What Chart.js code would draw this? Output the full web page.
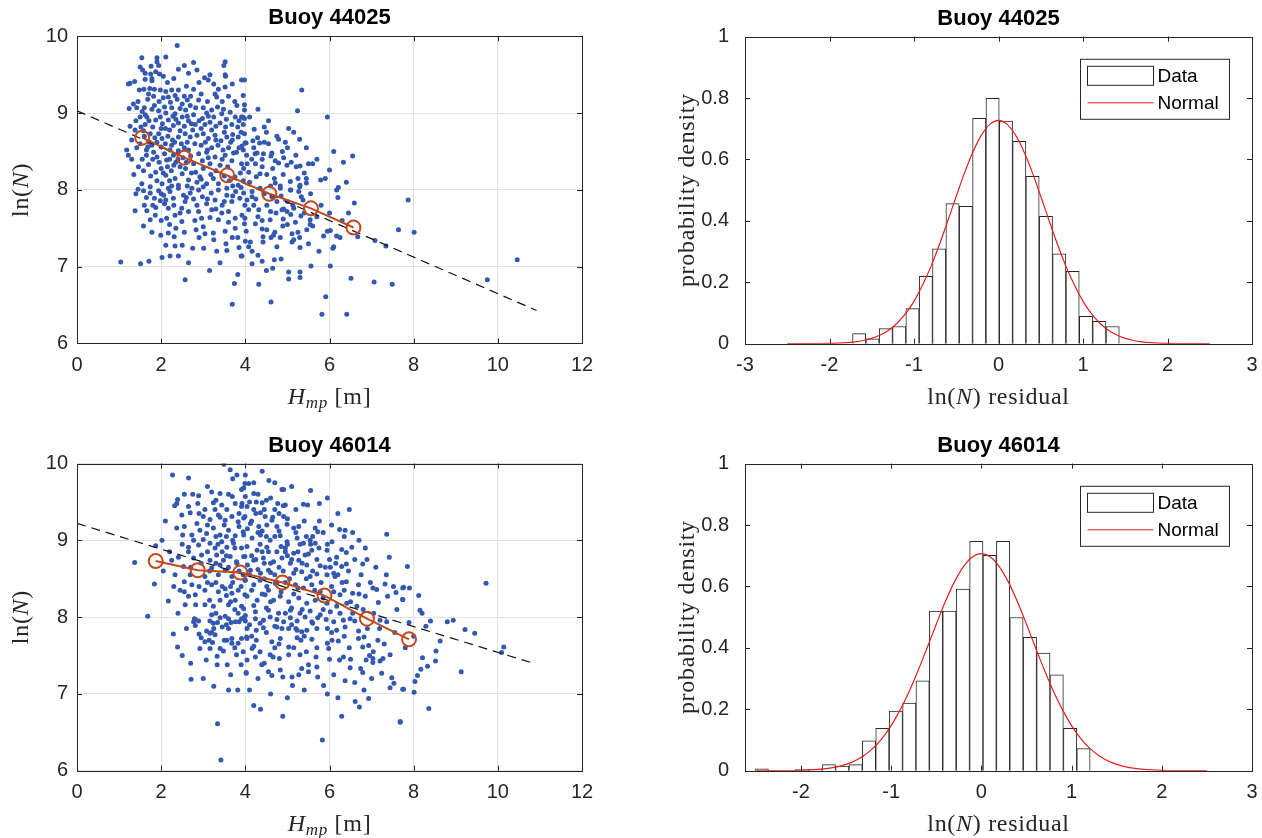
<!DOCTYPE html>
<html><head><meta charset="utf-8">
<script src="https://cdn.jsdelivr.net/npm/chart.js@4.4.1/dist/chart.umd.min.js"></script>
<style>
html,body{margin:0;padding:0;background:#fff;width:1262px;height:838px;overflow:hidden}
canvas{position:absolute;left:0;top:0}
</style></head><body>
<canvas id="c1" width="1262" height="838"></canvas>
<canvas id="c2" width="1262" height="838"></canvas>
<canvas id="c3" width="1262" height="838"></canvas>
<canvas id="c4" width="1262" height="838"></canvas>
<script>
// ---------- DATA ----------
const titles = ['Buoy 44025', 'Buoy 46014'];
const scatterXTicks = [0, 2, 4, 6, 8, 10, 12];
const scatterYTicks = [6, 7, 8, 9, 10];
const histXTicksTop = [-3, -2, -1, 0, 1, 2, 3];
const histXTicksBottom = [-2, -1, 0, 1, 2, 3];
const histYTicks = [0, 0.2, 0.4, 0.6, 0.8, 1];

// Buoy 44025 scatter: [Hmp, ln(N)]
const points44025 = [
[2.38,9.88],[1.54,9.72],[1.90,9.72],[2.11,9.73],[1.90,9.67],[1.76,9.61],[1.94,9.62],[1.50,9.60],[1.56,9.56],[1.62,9.52],[1.75,9.51],[1.87,9.54],[1.96,9.51],[1.78,9.45],[1.62,9.44],[1.78,9.42],[1.26,9.39],[1.37,9.41],[1.22,9.38],[2.41,9.57],[2.55,9.62],[2.77,9.66],[2.65,9.52],[2.85,9.56],[3.03,9.46],[3.12,9.43],[3.16,9.50],[3.52,9.67],[3.49,9.62],[3.52,9.50],[3.53,9.48],[2.05,9.48],[1.48,9.30],[1.59,9.31],[1.73,9.32],[1.84,9.31],[1.98,9.30],[2.11,9.28],[2.25,9.30],[2.41,9.30],[2.33,9.23],[2.17,9.21],[2.55,9.22],[2.62,9.17],[2.77,9.31],[2.89,9.17],[3.28,9.25],[3.36,9.31],[3.32,9.21],[3.52,9.34],[3.69,9.38],[3.91,9.43],[3.95,9.23],[1.34,9.12],[1.24,9.06],[1.42,9.07],[1.60,9.07],[1.62,8.98],[1.84,9.10],[1.94,9.03],[2.08,9.08],[2.11,9.00],[2.25,9.07],[2.33,8.99],[2.45,9.06],[2.58,9.04],[2.69,9.10],[2.82,9.07],[2.77,8.98],[3.00,9.07],[3.08,9.00],[3.20,9.04],[3.34,9.08],[3.44,8.99],[3.64,9.01],[3.76,8.95],[3.91,8.95],[3.98,8.93],[1.50,8.95],[1.71,8.90],[1.87,8.91],[2.03,8.86],[2.17,8.91],[2.29,8.84],[2.41,8.87],[2.55,8.83],[2.65,8.90],[2.81,8.85],[2.90,8.90],[3.04,8.85],[3.16,8.88],[3.30,8.83],[3.40,8.87],[3.53,8.82],[3.68,8.85],[3.82,8.82],[3.95,8.85],[1.26,8.83],[1.38,8.78],[1.58,8.77],[1.74,8.73],[1.94,8.73],[2.02,8.67],[2.16,8.70],[2.27,8.65],[2.41,8.69],[2.57,8.73],[2.69,8.69],[2.85,8.71],[3.00,8.73],[3.12,8.67],[3.28,8.71],[3.42,8.64],[3.56,8.69],[3.69,8.65],[3.83,8.69],[3.99,8.61],[1.18,8.52],[1.22,8.45],[1.68,8.56],[1.82,8.49],[1.90,8.43],[2.00,8.56],[2.08,8.47],[2.13,8.39],[2.21,8.52],[2.29,8.45],[2.35,8.36],[2.41,8.51],[2.45,8.30],[2.65,8.52],[2.77,8.34],[2.89,8.47],[2.98,8.38],[3.08,8.49],[3.16,8.34],[3.28,8.43],[3.40,8.32],[3.52,8.45],[3.68,8.38],[3.79,8.49],[3.91,8.34],[4.03,8.45],[1.46,8.30],[1.58,8.25],[1.70,8.33],[1.87,8.23],[2.00,8.28],[2.11,8.19],[2.24,8.25],[2.33,8.15],[2.50,8.21],[2.65,8.13],[2.82,8.23],[2.92,8.17],[3.08,8.08],[3.24,8.15],[3.36,8.08],[3.75,8.17],[3.83,8.06],[1.54,8.08],[1.74,8.04],[2.02,8.08],[2.17,8.02],[2.41,8.06],[2.73,8.02],[3.00,8.04],[3.56,8.02],
[2.20,8.40],[2.30,8.32],[2.52,8.42],[2.60,8.36],[2.70,8.44],[2.40,8.48],[2.25,8.58],[2.48,8.60],[2.62,8.62],[2.95,8.58],[3.05,8.62],[3.20,8.55],[3.35,8.58],[3.47,8.52],[3.60,8.55],[3.72,8.48],[3.85,8.55],[2.15,8.30],[2.05,8.22],[1.95,8.36],[1.80,8.40],[1.65,8.45],[1.72,8.62],[1.85,8.68],[1.60,8.70],[2.00,8.80],[2.20,8.78],[2.45,8.77],[2.75,8.78],[2.95,8.80],[3.20,8.78],[3.50,8.75],[3.70,8.72],[3.90,8.75],
[1.45,9.15],[1.55,9.02],[1.68,9.18],[1.82,9.22],[1.95,9.15],[2.05,9.20],[2.22,9.14],[2.38,9.18],[2.50,9.12],[2.70,9.22],[2.95,9.25],[3.10,9.15],[3.45,9.15],[3.60,9.22],[3.80,9.10],
[1.40,8.90],[1.62,8.85],[1.80,8.82],[1.98,8.95],[2.10,8.80],[2.35,8.92],[2.50,8.95],[2.72,8.86],[2.98,8.93],[3.25,8.95],[3.55,8.92],[3.85,8.90],
[1.50,8.60],[1.65,8.52],[1.78,8.58],[1.90,8.62],[2.10,8.60],[2.32,8.62],[2.55,8.55],[2.80,8.60],[3.10,8.52],[3.30,8.65],[3.65,8.62],[3.95,8.52],
[1.55,8.40],[1.75,8.18],[1.90,8.12],[2.20,8.12],[2.40,8.40],[2.58,8.28],[2.72,8.22],[2.85,8.10],[3.00,8.28],[3.12,8.42],[3.30,8.25],[3.45,8.40],[3.58,8.30],[3.62,8.12],[3.88,8.22],[4.10,8.10],[4.20,8.55],[4.40,8.40],[4.55,8.60],[4.65,8.28],[4.90,8.20],[5.00,8.55],[5.20,8.45],[5.40,8.22],
[1.65,7.90],[1.80,7.80],[2.00,7.95],[2.30,7.80],[2.45,7.70],[2.60,7.90],[2.85,7.80],[3.10,7.88],[3.30,7.75],[3.50,7.85],[3.70,7.92],[4.25,7.88],[4.45,7.95],[4.60,7.72],[4.85,7.92],[5.00,7.85],
[2.20,7.55],[2.55,7.45],[2.80,7.60],[3.00,7.52],[3.25,7.35],[3.60,7.58],[3.85,7.25],[4.30,7.65],[4.90,7.62],[5.40,7.70],[5.70,7.65],[2.90,7.38],[2.50,7.28],
[1.30,8.65],[1.42,8.55],[1.52,8.82],[1.66,8.95],[1.78,9.05],[2.15,9.40],[2.30,9.45],[2.60,9.35],[2.90,9.40],[3.25,9.38],[1.70,9.25],[2.28,8.96],[2.62,8.96],[3.12,8.96],[3.48,9.05],[3.75,9.15],[4.10,8.95],[4.30,9.05],[4.55,8.90],[4.75,8.70],[4.95,8.62],[5.15,8.75],[5.45,8.55],[5.70,8.40],[5.90,8.15],[6.10,8.50],[6.40,8.10],[4.15,8.40],[4.45,8.62],[4.60,8.05],[4.88,8.50],[5.25,8.15],[5.55,7.95],[5.80,7.80],[6.00,7.70],[6.30,7.60],[6.20,7.90],[4.20,7.80],[4.40,7.60],[4.70,7.45],[5.00,7.55],[5.25,7.45],[5.50,7.30],[5.75,7.20],[4.30,7.15],[4.50,6.95],[4.85,7.10],[3.40,7.05],[3.15,6.95],[2.65,7.05],[2.35,7.50],[2.00,7.60],[1.78,7.45],[1.60,7.80],[1.40,7.95],[1.35,8.20],[1.30,8.40],[2.25,8.05],[2.62,8.05],[2.95,8.14],[3.18,8.20],[3.50,8.18],[3.70,8.05],[3.95,8.12],
[1.04,7.06],[1.51,7.04],[1.71,7.07],[1.38,7.73],[1.66,7.73],[1.74,7.61],[1.58,7.53],[1.87,7.77],[2.02,7.12],[2.21,7.14],[2.41,7.14],[2.11,7.28],[2.33,7.27],[1.99,7.41],[2.17,7.44],[2.31,7.39],[2.57,6.83],[2.75,7.24],[3.01,7.24],[2.83,7.48],[3.04,7.43],[3.24,7.44],[3.32,7.20],[3.56,7.21],[3.54,7.30],[3.69,7.38],[3.82,7.38],[3.90,7.14],[3.82,6.90],[3.74,6.78],[3.69,6.51],[2.96,7.63],[3.16,7.64],[3.36,7.61],[3.44,7.70],[2.13,7.63],[2.33,7.67],[2.49,7.59],[2.65,7.72],[3.52,7.46],[3.76,7.50],[3.99,7.63],
[1.45,8.01],[1.58,7.99],[1.74,7.96],[1.94,7.99],[2.06,7.93],[2.11,7.87],[2.08,7.82],[2.21,7.98],[2.29,7.89],[2.41,8.02],[2.53,7.93],[2.57,7.85],[2.69,7.96],[2.77,7.88],[2.89,8.00],[2.98,7.91],[3.08,7.82],[3.19,7.96],[3.28,7.87],[3.36,8.00],[3.45,7.80],[3.56,7.93],[3.68,7.85],[3.77,7.98],[3.87,7.89],[3.99,7.80],[1.84,7.89],[1.98,7.86],[2.17,7.76],[2.49,7.76],[2.89,7.72],[3.20,7.74],[3.60,7.72],[3.76,7.63],[1.86,7.67],
[3.98,9.43],[5.34,9.30],[3.98,9.11],[3.98,9.04],[5.24,9.03],[5.95,8.95],[3.94,8.95],[4.21,8.79],[4.45,8.82],[4.50,8.75],[5.03,8.80],[3.98,8.73],[4.18,8.64],[4.29,8.68],[4.34,8.61],[4.02,8.61],[3.92,8.57],[5.29,8.66],[4.79,8.66],[4.23,8.47],[4.28,8.48],[4.43,8.47],[4.63,8.48],[4.61,8.44],[4.91,8.42],[4.71,8.38],[4.79,8.35],[5.09,8.36],[4.99,8.32],[5.21,8.30],[5.30,8.31],[5.50,8.34],[5.60,8.34],[6.00,8.26],[6.33,8.36],[6.55,8.44],[5.79,8.13],[5.45,8.15],[5.45,8.09],[5.07,8.11],[5.30,8.06],[5.08,8.00],[6.21,8.03],[6.17,8.00],[4.69,8.15],[4.51,8.20],[4.40,8.30],[4.24,8.34],[4.04,8.34],[3.96,8.28],[4.08,8.23],[4.35,8.21],[4.26,8.17],[4.71,8.09],[4.83,8.05],
[7.87,7.87],[6.59,7.83],[6.45,7.70],[7.64,7.48],[8.01,7.45],[7.08,7.34],[7.34,7.27],[6.67,7.39],[10.46,7.09],[9.75,6.83],[7.49,6.77],[7.06,6.80],[6.51,6.85],[6.41,6.38],[5.82,6.38],[5.91,6.61],[4.61,6.54],[4.32,6.77],[6.02,7.01],[5.56,7.01],[5.30,6.93],[5.30,6.86],[5.03,6.93],[5.03,6.84],[4.65,6.98],[4.69,7.09],[4.40,7.07],[4.16,7.04],[3.92,7.14],[4.16,7.20],[4.08,7.26],[4.00,7.33],[4.12,7.32],[4.42,7.32],[4.42,7.39],[4.61,7.38],[4.67,7.41],[4.75,7.26],[4.83,7.38],[5.11,7.32],[5.15,7.35],[5.30,7.25],[5.29,7.38],[5.11,7.43],[5.46,7.48],[5.86,7.40],[5.95,7.46],[6.02,7.47],[6.10,7.26],[6.08,7.24],[6.17,7.40],[6.25,7.38],[5.19,7.58],[5.54,7.55],[5.60,7.53],[5.54,7.61],[5.32,7.66],[5.08,7.68],[4.89,7.53],[4.87,7.74],[4.73,7.70],[4.59,7.61],[4.51,7.48],[4.40,7.49],[4.24,7.56],[4.02,7.46],[3.98,7.56],[3.92,7.67],[4.08,7.74],[4.04,7.87],[4.16,7.91],[4.32,7.74],[4.51,7.80],[4.63,7.91],[4.75,7.85],[4.91,7.75],[4.99,7.72],[5.15,7.76],[5.13,7.80],[5.37,7.87],[5.33,7.91],[4.83,8.02],[5.07,8.00],[5.27,7.98],[5.29,8.04],[4.35,8.02],[4.16,7.98],[3.96,7.96],[3.90,8.03]
];
// Buoy 44025 binned means and linear fit end points
const means44025 = [[1.55,8.68],[2.55,8.42],[3.57,8.19],[4.57,7.95],[5.56,7.76],[6.57,7.51]];
const fit44025 = [[0,9.03],[10.92,6.43]];

// Buoy 46014 scatter
const points46014 = [
[3.49,9.99],[3.64,9.92],[2.27,9.85],[2.65,9.81],[3.20,9.63],[3.40,9.61],[3.69,9.57],[3.91,9.66],[3.99,9.74],[2.39,9.53],[2.37,9.48],[2.32,9.45],[2.65,9.44],[2.89,9.58],[2.87,9.48],[3.04,9.40],[3.24,9.49],[3.28,9.40],[3.44,9.46],[3.56,9.40],[3.76,9.48],[3.91,9.44],[2.49,9.33],[2.69,9.36],[2.85,9.22],[3.00,9.31],[3.16,9.27],[3.36,9.33],[3.52,9.26],[3.68,9.31],[3.83,9.24],[3.99,9.31],[2.37,9.16],[2.55,9.18],[2.51,9.07],[2.73,9.07],[2.92,9.13],[3.08,9.09],[3.24,9.16],[3.40,9.07],[3.60,9.13],[3.76,9.06],[3.95,9.11],[2.02,9.00],[1.87,8.93],[2.65,8.91],[2.77,9.00],[2.89,8.94],[3.00,9.01],[3.16,8.96],[3.28,8.90],[3.44,8.98],[3.56,8.91],[3.72,8.96],[3.91,8.90],[2.41,8.78],[2.65,8.85],[2.77,8.77],[2.96,8.81],[3.16,8.74],[3.32,8.81],[3.48,8.74],[3.64,8.79],[3.79,8.72],[3.99,8.79],[1.37,8.71],[2.33,8.55],[2.25,8.74],[2.53,8.66],[2.69,8.55],[3.04,8.53],[3.20,8.64],[3.36,8.55],[3.52,8.61],[3.68,8.53],[3.99,8.48],[1.84,8.43],[2.55,8.46],[2.73,8.42],[2.90,8.40],[3.04,8.35],[3.20,8.42],[3.36,8.33],[3.52,8.37],[3.68,8.31],[3.83,8.35],[3.99,8.29],[2.55,8.33],[2.65,8.27],[2.81,8.29],[2.17,8.21],[2.57,8.16],[2.82,8.16],[3.04,8.16],[3.24,8.14],[3.40,8.22],[3.60,8.16],[3.76,8.22],[3.91,8.14],[1.68,8.01],[2.81,7.97],[3.20,8.03],[3.52,8.01],[3.83,8.05],
[2.79,7.98],[2.77,7.94],[2.81,7.89],[2.89,7.95],[3.16,7.95],[3.24,7.92],[3.34,7.93],[3.40,7.99],[3.45,7.87],[3.60,7.98],[3.66,7.93],[3.76,7.94],[3.85,7.94],[3.91,7.98],[3.98,8.00],[2.29,7.78],[2.39,7.61],[2.90,7.78],[2.95,7.73],[3.08,7.82],[3.16,7.79],[3.28,7.77],[3.04,7.68],[3.14,7.70],[3.22,7.67],[2.92,7.59],[3.16,7.59],[3.40,7.59],[3.48,7.56],[3.56,7.70],[3.68,7.72],[3.68,7.66],[3.83,7.66],[3.91,7.72],[4.03,7.74],[3.79,7.51],[3.07,7.44],[3.33,7.49],[3.33,7.38],[3.57,7.38],[3.65,7.25],[4.02,7.28],[2.71,7.19],[3.82,7.05],[3.34,6.61],[3.42,6.14],
[4.56,9.78],[4.87,9.66],[4.91,9.66],[4.08,9.74],[4.20,9.61],[3.96,9.68],[4.00,9.57],[3.92,9.48],[4.04,9.44],[4.26,9.50],[4.40,9.49],[4.77,9.48],[4.95,9.46],[5.38,9.47],[5.48,9.46],[5.76,9.48],[6.47,9.40],[4.20,9.40],[4.36,9.36],[4.47,9.31],[4.63,9.26],[4.91,9.31],[5.76,9.25],[3.96,9.29],[4.12,9.22],[4.32,9.18],[4.51,9.20],[4.75,9.18],[4.99,9.21],[5.15,9.16],[5.27,9.18],[5.66,9.16],[5.72,9.11],[6.24,9.14],[6.37,9.13],[6.55,9.10],[7.36,9.08],[6.35,9.05],[3.96,9.07],[4.16,9.03],[4.36,9.07],[4.59,9.00],[4.83,9.06],[4.99,8.98],[5.23,9.03],[5.38,8.96],[5.54,9.00],[5.66,8.96],[6.06,8.98],[4.04,8.92],[4.28,8.87],[4.51,8.91],[4.75,8.85],[4.95,8.90],[5.15,8.83],[5.42,8.81],[5.58,8.87],[5.94,8.87],[6.29,8.88],[6.40,8.84],[6.53,8.91],[6.17,8.78],[6.89,8.75],[7.42,8.78],[3.96,8.79],[4.20,8.74],[4.43,8.77],[4.67,8.72],[4.87,8.77],[5.07,8.70],[5.27,8.74],[5.46,8.68],[5.78,8.67],[6.02,8.65],[6.29,8.66],[6.40,8.69],[6.79,8.69],[7.85,8.66],[4.12,8.61],[4.36,8.57],[4.55,8.61],[5.15,8.57],[5.34,8.59],[5.54,8.53],[5.70,8.56],[5.94,8.55],[6.10,8.57],[6.13,8.53],[6.40,8.46],[6.69,8.42],[6.97,8.45],[7.03,8.38],[7.12,8.36],[7.32,8.43],[7.52,8.40],[7.76,8.39],[4.00,8.48],[4.20,8.42],[4.51,8.40],[4.71,8.44],[5.19,8.42],[5.38,8.38],[5.58,8.42],[5.78,8.33],[6.10,8.33],[6.25,8.29],[6.55,8.31],[6.85,8.27],[7.38,8.27],[7.58,8.32],[7.74,8.23],[7.16,8.19],[4.04,8.27],[4.28,8.22],[4.47,8.29],[4.67,8.22],[4.83,8.27],[5.03,8.20],[5.27,8.25],[5.46,8.18],[5.66,8.22],[5.94,8.18],[6.17,8.14],[6.41,8.18],[6.65,8.14],[3.96,8.11],[4.24,8.07],[4.55,8.09],[4.79,8.05],[5.07,8.09],[5.30,8.05],[5.54,8.08],[5.78,8.03],[6.02,8.07],[6.25,8.05],
[4.24,7.98],[4.43,7.96],[4.59,8.00],[4.75,7.97],[4.91,7.94],[5.07,7.99],[5.23,7.95],[5.42,8.00],[5.58,7.94],[5.72,7.99],[5.92,7.97],[6.10,7.94],[6.33,7.96],[6.49,7.98],[7.20,7.96],[7.36,7.94],[4.04,7.85],[4.26,7.83],[4.43,7.86],[4.75,7.87],[4.87,7.85],[5.03,7.85],[5.23,7.83],[5.34,7.81],[5.46,7.83],[5.70,7.85],[5.95,7.85],[6.17,7.83],[6.37,7.87],[6.69,7.82],[6.82,7.74],[6.69,7.72],[7.19,7.85],[4.04,7.72],[4.26,7.70],[4.63,7.68],[4.83,7.72],[5.03,7.61],[5.23,7.73],[5.32,7.70],[5.58,7.71],[5.95,7.66],[5.98,7.59],[6.06,7.70],[6.21,7.69],[6.47,7.60],[6.79,7.61],[6.93,7.63],[7.04,7.55],[4.04,7.44],[4.16,7.59],[4.24,7.48],[4.39,7.38],[4.55,7.29],[4.63,7.24],[4.59,7.51],[4.66,7.48],[4.81,7.46],[4.83,7.31],[4.89,7.22],[5.03,7.51],[5.11,7.22],[5.12,7.11],[5.27,7.25],[5.30,7.51],[5.34,7.33],[5.50,7.38],[5.50,7.29],[5.68,7.48],[5.72,7.22],[5.86,7.11],[6.24,7.44],[6.33,7.48],[6.37,7.17],[6.49,7.34],[6.74,7.33],[6.79,7.28],[6.82,7.05],[6.87,7.44],[7.03,7.46],[7.03,7.41],[7.20,7.43],[7.27,7.46],[7.24,7.27],[7.44,7.51],[7.48,7.21],[7.53,7.14],[7.44,7.08],[7.76,7.06],[4.20,6.85],[4.36,6.80],[4.89,6.71],[5.83,6.40],[6.29,6.71],[6.61,6.90],[6.71,6.83],[6.93,6.94],[7.68,6.64],[4.02,7.27],[4.00,7.95],
[7.74,8.38],[7.90,8.38],[7.74,8.23],[8.12,8.28],[8.15,8.09],[9.72,8.44],[7.89,7.93],[8.29,7.88],[8.40,7.95],[8.80,7.94],[8.94,7.96],[9.22,7.84],[9.45,7.79],[8.63,7.69],[8.53,7.56],[10.14,7.61],[10.09,7.54],[8.21,7.47],[8.33,7.36],[8.52,7.43],[8.17,7.32],[8.09,7.24],[8.03,7.16],[8.01,7.02],[7.74,7.06],[9.13,7.29],[8.36,6.81],[7.68,6.63],
[4.10,8.55],[4.30,8.62],[4.45,8.50],[4.60,8.58],[4.75,8.45],[4.90,8.60],[5.05,8.50],[5.20,8.62],[4.15,8.80],[4.35,8.95],[4.55,8.85],[4.70,9.05],[4.85,8.92],[5.00,8.80],[5.30,8.95],[5.45,9.05],[4.05,9.15],[4.40,9.12],[4.65,9.30],[4.25,9.35],[3.30,8.70],[3.45,8.85],[3.60,8.65],[3.75,8.90],[3.85,8.60],[3.10,8.85],[2.95,8.70],[3.70,8.45],[3.55,8.28],[3.30,8.45],[3.15,8.22],[4.20,8.15],[4.40,8.30],[4.60,8.20],[4.85,8.33],[5.10,8.12],[5.25,8.38],[5.60,8.60],[5.80,8.45],[6.00,8.75],[4.10,7.90],[4.50,7.80],[4.80,7.65],[5.10,7.90],[5.40,7.75],[3.95,7.55],[4.35,7.55],[3.60,7.85],[3.25,7.85],[4.90,9.45],[4.30,9.60],[4.50,9.52],[3.80,9.85],[4.10,9.50],
[3.10,9.20],[3.30,9.05],[3.50,9.20],[3.70,9.00],[3.85,9.18],[4.15,9.25],[4.30,9.10],[4.50,9.05],[4.80,9.12],[5.00,9.28],[5.20,9.10],[5.40,9.25],[5.60,9.05],[5.85,9.10],[6.05,9.20],
[3.15,8.60],[3.40,8.68],[3.55,8.80],[3.80,8.70],[4.05,8.68],[4.25,8.75],[4.40,8.85],[4.60,8.70],[4.80,8.65],[5.00,8.95],[5.10,8.75],[5.35,8.70],[5.50,8.82],[5.70,8.75],[5.90,8.65],[6.20,8.55],[6.45,8.60],[6.60,8.75],
[3.10,8.45],[3.45,8.40],[3.65,8.20],[3.90,8.40],[4.15,8.35],[4.35,8.48],[4.55,8.35],[4.70,8.55],[4.95,8.45],[5.15,8.30],[5.45,8.50],[5.65,8.35],[5.85,8.25],[6.05,8.40],[6.30,8.45],[6.50,8.20],[6.70,8.30],
[3.30,8.05],[3.55,7.90],[3.75,8.10],[4.00,8.02],[4.15,7.75],[4.35,7.92],[4.50,8.12],[4.70,7.88],[4.95,8.05],[5.20,7.85],[5.35,8.10],[5.60,7.92],[5.85,8.10],[6.05,7.80],[6.35,7.75],[6.60,7.95],[6.90,7.85],[7.05,8.05],
[3.20,7.80],[3.50,7.70],[3.75,7.60],[4.20,7.62],[4.45,7.40],[4.70,7.60],[5.15,7.60],[5.45,7.55],[5.70,7.60],[6.00,7.45],[6.50,7.45],[3.90,7.38],[4.30,7.20],[5.70,7.35],[6.10,7.25],
[2.50,8.95],[2.70,8.65],[2.45,8.35],[2.90,9.35],[3.30,9.52],[3.60,9.60],[4.00,9.85],[4.60,9.55],[4.80,9.35],[5.20,9.40],[3.40,9.30],
[2.10,9.25],[2.20,8.85],[2.05,8.60],[2.30,8.40],[2.40,8.05],[2.60,7.85],[2.70,7.40],[2.50,7.50],[3.00,7.20],[3.25,7.10],[3.60,7.05],[4.10,7.05],[4.60,7.00],[5.00,6.95],[5.40,7.05],[5.95,7.00],[6.20,6.95],[6.60,7.15],[7.00,7.20],[7.30,7.65],[7.55,7.80],[7.80,7.60],[8.00,7.75],[8.20,8.05],[7.60,8.10],[7.35,8.55],[7.10,8.65],[6.85,8.90],[6.70,9.00],[6.20,9.35],[5.95,9.55],[5.55,9.65],[5.10,9.70],[4.70,9.75],[4.40,9.90],[4.20,9.75],[3.70,9.80],[3.10,9.70],[2.75,9.60],[2.55,9.60],[6.80,8.10],[6.95,7.50],[7.15,7.70],[5.55,8.95],[5.75,8.90],[5.95,8.95],[6.15,8.70],[6.35,8.35],[6.55,8.05],[6.75,8.55],[4.95,8.85],[5.25,8.85],[4.45,8.70],[3.95,8.55],[3.65,8.40],[3.35,8.95],[3.55,9.05],[3.85,9.35],[4.45,9.40],[4.70,9.40]
];
const means46014 = [[1.87,8.73],[2.87,8.61],[3.88,8.58],[4.88,8.45],[5.88,8.28],[6.89,7.98],[7.89,7.71]];
const fit46014 = [[0,9.22],[10.90,7.39]];

// Histograms: bin centres and probability densities
const binCenters44025 = [-1.649,-1.491,-1.333,-1.175,-1.018,-0.860,-0.702,-0.544,-0.386,-0.228,-0.070,0.088,0.246,0.403,0.561,0.719,0.877,1.035,1.193,1.351];
const density44025   = [0.033,0.016,0.049,0.056,0.114,0.219,0.309,0.456,0.447,0.734,0.799,0.725,0.659,0.545,0.415,0.293,0.236,0.089,0.073,0.056];
const binCenters46014 = [-2.434,-2.285,-2.137,-1.988,-1.840,-1.691,-1.542,-1.394,-1.245,-1.097,-0.948,-0.799,-0.651,-0.502,-0.354,-0.205,-0.056,0.092,0.241,0.389,0.538,0.687,0.835,0.984,1.132];
const density46014   = [0.006,0,0,0.004,0.005,0.020,0.015,0.020,0.097,0.138,0.194,0.220,0.293,0.520,0.520,0.591,0.747,0.701,0.747,0.499,0.434,0.383,0.312,0.138,0.072];

// Normal curves read at these residual values
const normalX = [-2.5,-2.2,-2.0,-1.9,-1.8,-1.7,-1.6,-1.5,-1.4,-1.3,-1.2,-1.1,-1.0,-0.9,-0.8,-0.7,-0.6,-0.5,-0.4,-0.3,-0.2,-0.1,0,0.1,0.2,0.3,0.4,0.5,0.6,0.7,0.8,0.9,1.0,1.1,1.2,1.3,1.4,1.5,1.6,1.7,1.8,1.9,2.0,2.2,2.5];
const normal44025 = [0,0.0002,0.0009,0.0018,0.0034,0.006,0.0104,0.0174,0.0282,0.044,0.0667,0.0977,0.138,0.190,0.251,0.322,0.400,0.480,0.558,0.626,0.680,0.715,0.727,0.715,0.680,0.626,0.558,0.480,0.400,0.322,0.251,0.190,0.138,0.0977,0.0667,0.044,0.0282,0.0174,0.0104,0.006,0.0034,0.0018,0.0009,0.0002,0];
const normal46014 = [0,0.0004,0.0013,0.0024,0.0043,0.0075,0.0126,0.0206,0.0325,0.0496,0.0735,0.1055,0.147,0.198,0.258,0.327,0.401,0.477,0.550,0.614,0.664,0.696,0.707,0.696,0.664,0.614,0.550,0.477,0.401,0.327,0.258,0.198,0.147,0.1055,0.0735,0.0496,0.0325,0.0206,0.0126,0.0075,0.0043,0.0024,0.0013,0.0004,0];

// ---------- STYLE / LAYOUT ----------
const W = 1262, H = 838;
const AX = '#262626';
const BLUE = '#3358b0';
const ORANGE = '#bf4a1d';
const RED = '#e0201e';
const SANS = '"Liberation Sans", Arial, sans-serif';
const SERIF = '"Liberation Serif", "DejaVu Serif", serif';
Chart.defaults.font.family = SANS;
Chart.defaults.color = AX;

const frames = {
  c1: {left: 77, right: 582, top: 36.3, bottom: 343.5},
  c2: {left: 745, right: 1252, top: 36.6, bottom: 343.7},
  c3: {left: 77, right: 582, top: 463.5, bottom: 770.7},
  c4: {left: 745, right: 1252, top: 463.6, bottom: 770.7}
};

const decorPlugin = {
  id: 'decor',
  afterDraw(chart, args, o) {
    const ctx = chart.ctx, a = chart.chartArea;
    const xs = chart.scales.x, ys = chart.scales.y;
    ctx.save();
    ctx.strokeStyle = AX; ctx.lineWidth = 1;
    ctx.strokeRect(Math.round(a.left)+0.5, Math.round(a.top)+0.5, Math.round(a.right-a.left), Math.round(a.bottom-a.top));
    const TL = 5;
    ctx.beginPath();
    xs.ticks.forEach(t => {
      const px = Math.round(xs.getPixelForValue(t.value)) + 0.5;
      if (px < a.left + 1 || px > a.right - 1) return;
      ctx.moveTo(px, a.bottom); ctx.lineTo(px, a.bottom - TL);
      ctx.moveTo(px, a.top); ctx.lineTo(px, a.top + TL);
    });
    ys.ticks.forEach(t => {
      const py = Math.round(ys.getPixelForValue(t.value)) + 0.5;
      if (py < a.top + 1 || py > a.bottom - 1) return;
      ctx.moveTo(a.left, py); ctx.lineTo(a.left + TL, py);
      ctx.moveTo(a.right, py); ctx.lineTo(a.right - TL, py);
    });
    ctx.stroke();
    ctx.fillStyle = '#000';
    ctx.font = 'bold 22px ' + SANS;
    ctx.textAlign = 'center'; ctx.textBaseline = 'middle';
    ctx.fillText(o.title, (a.left + a.right) / 2, a.top - 18);
    ctx.fillStyle = AX;
    drawRich(ctx, o.xlabel, (a.left + a.right) / 2, a.bottom + 54, 0);
    drawRich(ctx, o.ylabel, a.left - o.yLabelOff, (a.top + a.bottom) / 2, -Math.PI / 2);
    if (o.legend) {
      const lx = 1080.5, ly = a.top + 22.7;
      ctx.fillStyle = '#fff';
      ctx.fillRect(lx, ly, 149, 60);
      ctx.strokeStyle = AX; ctx.lineWidth = 1;
      ctx.strokeRect(lx, ly, 149, 60);
      ctx.fillRect(lx + 7, ly + 7, 66, 19);
      ctx.strokeRect(lx + 7, ly + 7, 66, 19);
      ctx.strokeStyle = RED; ctx.lineWidth = 1;
      ctx.beginPath(); ctx.moveTo(lx + 7, ly + 43.5); ctx.lineTo(lx + 73, ly + 43.5); ctx.stroke();
      ctx.fillStyle = '#000';
      ctx.font = '19px ' + SANS;
      ctx.textAlign = 'left'; ctx.textBaseline = 'middle';
      ctx.fillText('Data', lx + 77, ly + 17);
      ctx.fillText('Normal', lx + 77, ly + 44);
    }
    ctx.restore();
  }
};

function drawRich(ctx, segs, cx, cy, rot) {
  const fontOf = s => (s.it ? 'italic ' : '') + (s.sub ? '17px ' : '24px ') + SERIF;
  ctx.save();
  ctx.letterSpacing = '0.7px';
  let total = 0;
  segs.forEach(s => { ctx.font = fontOf(s); s.w = ctx.measureText(s.t).width; total += s.w; });
  ctx.translate(cx, cy); ctx.rotate(rot);
  ctx.textAlign = 'left'; ctx.textBaseline = 'middle';
  let x = -total / 2;
  segs.forEach(s => { ctx.font = fontOf(s); ctx.fillText(s.t, x, s.sub ? 6 : 0); x += s.w; });
  ctx.restore();
}

const lnN = [{t: 'ln('}, {t: 'N', it: true}, {t: ')'}];
const hmp = [{t: 'H', it: true}, {t: 'mp', it: true, sub: true}, {t: ' [m]'}];
const resid = [{t: 'ln('}, {t: 'N', it: true}, {t: ') residual'}];
const pdens = [{t: 'probability density'}];

function scales(f, xr, xt, yr, yt, grid, yPad) {
  const tickFont = {size: 20, family: SANS};
  return {
    x: {
      type: 'linear', min: xr[0], max: xr[1], offset: false,
      afterBuildTicks: s => { s.ticks = xt.map(v => ({value: v})); },
      afterFit: s => { s.height = H - f.bottom; s.paddingLeft = 0; s.paddingRight = 0; },
      ticks: {font: tickFont, color: AX, padding: 10, maxRotation: 0, autoSkip: false, callback: v => String(v)},
      grid: {display: grid, offset: false, color: '#e2e2e2', lineWidth: 1, drawTicks: false},
      border: {display: false}
    },
    y: {
      type: 'linear', min: yr[0], max: yr[1],
      afterBuildTicks: s => { s.ticks = yt.map(v => ({value: v})); },
      afterFit: s => { s.width = f.left; s.paddingTop = 0; s.paddingBottom = 0; },
      ticks: {font: tickFont, color: AX, padding: yPad, autoSkip: false, callback: v => String(v)},
      grid: {display: grid, color: '#e2e2e2', lineWidth: 1, drawTicks: false},
      border: {display: false}
    }
  };
}

function scatterChart(id, pts, means, fit, title) {
  const f = frames[id];
  new Chart(document.getElementById(id), {
    type: 'scatter',
    data: {datasets: [
      {data: means.map(p => ({x: p[0], y: p[1]})), showLine: true, borderColor: ORANGE, borderWidth: 2,
       pointRadius: 7, pointBorderWidth: 2, pointBorderColor: ORANGE, pointBackgroundColor: 'rgba(0,0,0,0)', order: 1},
      {data: fit.map(p => ({x: p[0], y: p[1]})), showLine: true, borderColor: '#111', borderWidth: 1.2,
       borderDash: [9, 6], pointRadius: 0, order: 2},
      {data: pts.map(p => ({x: p[0], y: p[1]})), pointRadius: 2.5, pointBorderWidth: 0,
       pointBackgroundColor: BLUE, backgroundColor: BLUE, order: 3}
    ]},
    options: {
      responsive: false, animation: false, devicePixelRatio: 1,
      layout: {padding: {left: 0, top: f.top, right: W - f.right, bottom: 0}},
      plugins: {legend: {display: false}, tooltip: {enabled: false},
        decor: {title: title, xlabel: hmp, ylabel: lnN, yLabelOff: 55, legend: false}},
      scales: scales(f, [0, 12], scatterXTicks, [6, 10], scatterYTicks, true, 9)
    },
    plugins: [decorPlugin]
  });
}

function histChart(id, centers, dens, normY, xr, xt, title) {
  const f = frames[id];
  new Chart(document.getElementById(id), {
    data: {datasets: [
      {type: 'line', data: normalX.map((x, i) => ({x: x, y: normY[i]})), borderColor: RED, borderWidth: 1.2,
       pointRadius: 0, cubicInterpolationMode: 'monotone', order: 1},
      {type: 'bar', data: centers.map((c, i) => ({x: c, y: dens[i]})), backgroundColor: '#fff',
       borderColor: AX, borderWidth: 1, borderSkipped: 'start', barPercentage: 1, categoryPercentage: 1, order: 2}
    ]},
    options: {
      responsive: false, animation: false, devicePixelRatio: 1,
      layout: {padding: {left: 0, top: f.top, right: W - f.right, bottom: 0}},
      plugins: {legend: {display: false}, tooltip: {enabled: false},
        decor: {title: title, xlabel: resid, ylabel: pdens, yLabelOff: 57, legend: true}},
      scales: scales(f, xr, xt, [0, 1], histYTicks, false, 16)
    },
    plugins: [decorPlugin]
  });
}

scatterChart('c1', points44025, means44025, fit44025, titles[0]);
histChart('c2', binCenters44025, density44025, normal44025, [-3, 3], histXTicksTop, titles[0]);
scatterChart('c3', points46014, means46014, fit46014, titles[1]);
histChart('c4', binCenters46014, density46014, normal46014, [-2.62, 3], histXTicksBottom, titles[1]);
</script>
</body></html>
